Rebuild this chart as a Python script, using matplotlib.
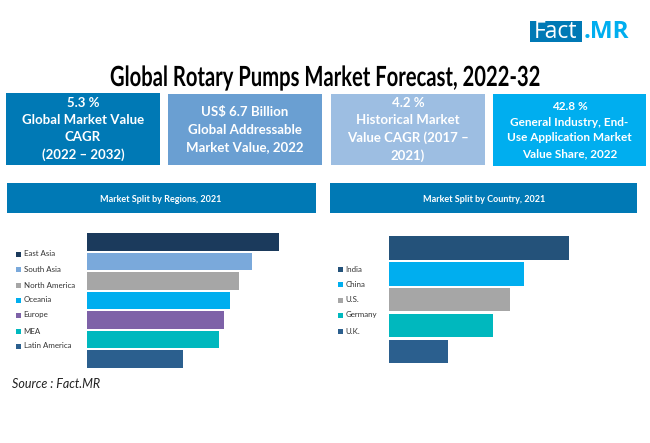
import matplotlib
matplotlib.use('Agg')
import matplotlib.pyplot as plt
import matplotlib.patheffects as pe
from matplotlib.patches import Rectangle
from matplotlib.transforms import Affine2D

W, H = 650, 443

# bar lengths, longest bar = 100
regions = ['East Asia', 'South Asia', 'North America', 'Oceania', 'Europe', 'MEA', 'Latin America']
region_values = [100, 86, 79, 74.5, 71.5, 69, 50]
region_colors = ['#1B3A5C', '#7AA9DB', '#A6A6A6', '#00AEEF', '#7E62A8', '#00B8BE', '#2B5F8E']

countries = ['India', 'China', 'U.S.', 'Germany', 'U.K.']
country_values = [100, 75, 67, 58, 33]
country_colors = ['#24527A', '#00AEEF', '#A6A6A6', '#00B8BE', '#2B5F8E']

kpi_texts = ['5.3 %\nGlobal Market Value\nCAGR\n(2022 – 2032)',
             'US$ 6.7 Billion\nGlobal Addressable\nMarket Value, 2022',
             '4.2 %\nHistorical Market\nValue CAGR (2017 –\n2021)',
             '42.8 %\nGeneral Industry, End-\nUse Application Market\nValue Share, 2022']
kpi_colors = ['#0079B5', '#6A9FD2', '#9DBEE2', '#00AEEF']

plt.rcParams['font.family'] = ['Lato', 'DejaVu Sans']


class Squeeze(pe.AbstractPathEffect):
    # no condensed font installed, so narrow the glyph outlines around one x position
    def __init__(self, cx, sx):
        super().__init__()
        self.cx = cx
        self.sx = sx

    def draw_path(self, renderer, gc, tpath, affine, rgbFace=None):
        narrow = affine + Affine2D().translate(-self.cx, 0).scale(self.sx, 1).translate(self.cx, 0)
        renderer.draw_path(gc, tpath, narrow, rgbFace)


fig = plt.figure(figsize=(W / 100, H / 100), dpi=100)

# page layer in pixels, y going down
page = fig.add_axes([0, 0, 1, 1])
page.set_xlim(0, W)
page.set_ylim(H, 0)
page.axis('off')


def box(x0, x1, y0, y1, color, edge='none'):
    page.add_patch(Rectangle((x0, y0), x1 - x0, y1 - y0, facecolor=color, edgecolor=edge, lw=0.8))


def bars(x0, x1, y0, y1, values, colors, height):
    ax = fig.add_axes([x0 / W, 1 - y1 / H, (x1 - x0) / W, (y1 - y0) / H])
    ax.barh(range(len(values)), values, height=height, color=colors)
    ax.set_xlim(0, max(values))
    ax.set_ylim(len(values) - 0.5, -0.5)
    ax.axis('off')
    return ax


def legend(labels, colors, x, ys):
    for label, color, y in zip(labels, colors, ys):
        box(x, x + 5, y - 2.5, y + 2.5, color)
        page.text(x + 7.5, y, label, fontsize=5.7, color='#333333', va='center', ha='left')


# logo
box(530, 582, 21, 42, '#0079B5')
page.text(534, 31.5, 'Fact', fontsize=16.5, color='white', va='center', ha='left', family='Open Sans')
page.text(584, 31.5, '.MR', fontsize=17.5, color='#00AEEF', va='center', ha='left',
          family='Open Sans', fontweight='bold')

# title
title = page.text(325, 78, 'Global Rotary Pumps Market Forecast, 2022-32', fontsize=20, fontweight='bold',
                  color='black', va='center', ha='center')
title.set_path_effects([Squeeze(325, 0.727)])

# KPI boxes
kpi_x = [(6, 160), (168, 322), (331, 485), (493, 646)]
kpi_y = [(93, 165), (94, 165), (94, 165), (94, 166)]
kpi_size = [9.5, 9.5, 9.5, 8.5]
kpi_spacing = [1.52, 1.52, 1.52, 1.55]
for (x0, x1), (y0, y1), color, txt, size, spacing in zip(kpi_x, kpi_y, kpi_colors, kpi_texts, kpi_size, kpi_spacing):
    box(x0, x1, y0, y1, color)
    page.text((x0 + x1) / 2, (y0 + y1) / 2, txt, fontsize=size, fontweight='bold', color='white',
              va='center', ha='center', linespacing=spacing)

# panel headers
box(7, 316, 183, 213, '#0079B5')
page.text(161, 199, 'Market Split by Regions, 2021', fontsize=6.5, fontweight='bold',
          color='white', va='center', ha='center')
box(330, 637, 183, 213, '#0079B5')
page.text(484, 199, 'Market Split by Country, 2021', fontsize=6.5, fontweight='bold',
          color='white', va='center', ha='center')

# bars
bars(87, 279, 232.5, 368.5, region_values, region_colors, 0.9)
bars(389, 569, 235, 364.5, country_values, country_colors, 0.9)

legend(regions, region_colors, 16, [254, 269, 285, 300, 315, 331, 346])
legend(countries, country_colors, 338, [269, 284.5, 300, 315, 331])

page.text(12, 384, 'Source : Fact.MR', fontsize=9, style='italic', color='#222222', va='center', ha='left')

fig.savefig('out.png', dpi=100)
